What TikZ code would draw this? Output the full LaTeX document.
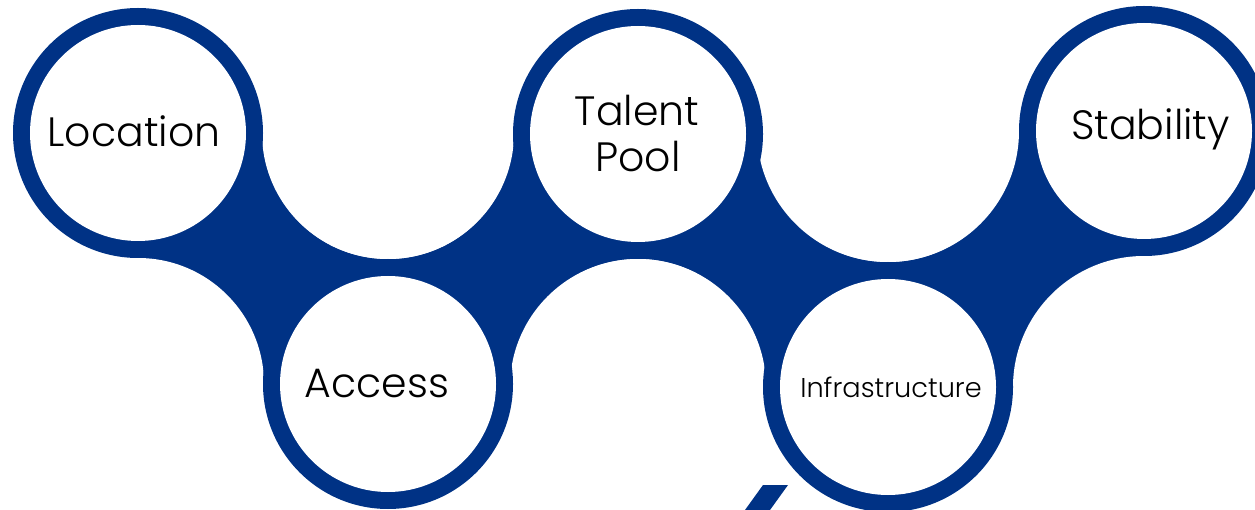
\documentclass[tikz,border=0pt]{standalone}
\usepackage{fontspec}
\setmainfont{Poppins}[UprightFont=* Light]
\definecolor{ringblue}{RGB}{0,50,133}
\begin{document}
\begin{tikzpicture}[x=1pt,y=-1pt,
  inner/.style={circle,fill=white,minimum size=216pt,inner sep=0pt},
  outer/.style={circle,fill=ringblue,minimum size=250pt,inner sep=0pt},
  hole/.style={fill=white},
  band/.style={fill=ringblue},
  lbl/.style={anchor=base,inner sep=0pt,text=black,font=\fontsize{41}{47}\selectfont},
  lblsmall/.style={anchor=base,inner sep=0pt,text=black,font=\fontsize{27.2}{30}\selectfont}]
\useasboundingbox (0,0) rectangle (1255,510);
% centres
\coordinate (cL) at (138,133);
\coordinate (cA) at (388,384);
\coordinate (cT) at (638,134);
\coordinate (cI) at (888,387);
\coordinate (cS) at (1144,131);
% connecting bands
\fill[band] (cL) rectangle (cA);
\fill[band] (cA) rectangle (cT);
\fill[band] (cT) rectangle (cI);
\fill[band] (cI) rectangle (cS);
% concave cut-outs
\fill[hole] (388,133) circle[radius=126];
\fill[hole] (138,384) circle[radius=126];
\fill[hole] (388,134) circle[radius=125];
\fill[hole] (638,384) circle[radius=125];
\fill[hole] (888,134) circle[radius=128];
\fill[hole] (638,387) circle[radius=128];
\fill[hole] (888,131) circle[radius=131];
\fill[hole] (1144,387) circle[radius=131];
% rings
\foreach \c in {cL,cA,cT,cI,cS} \node[outer] (o\c) at (\c) {};
\foreach \c in {cL,cA,cT,cI,cS} \node[inner] (i\c) at (\c) {};
% labels
\node[lbl] (tLoc) at (134,147) {Location};
\node[lbl] (tAcc) at (377,397) {Access};
\node[lbl] (tTal) at (637,126) {Talent};
\node[lbl] (tPool) at (638,172) {Pool};
\node[lbl] (tSta) at (1150.5,139.5) {Stability};
\node[lblsmall] (tInf) at (891,397) {Infrastructure};
% cropped accent at bottom
\fill[ringblue] (763,485) -- (788,485) -- (770,510) -- (745,510) -- cycle;
\end{tikzpicture}
\end{document}
